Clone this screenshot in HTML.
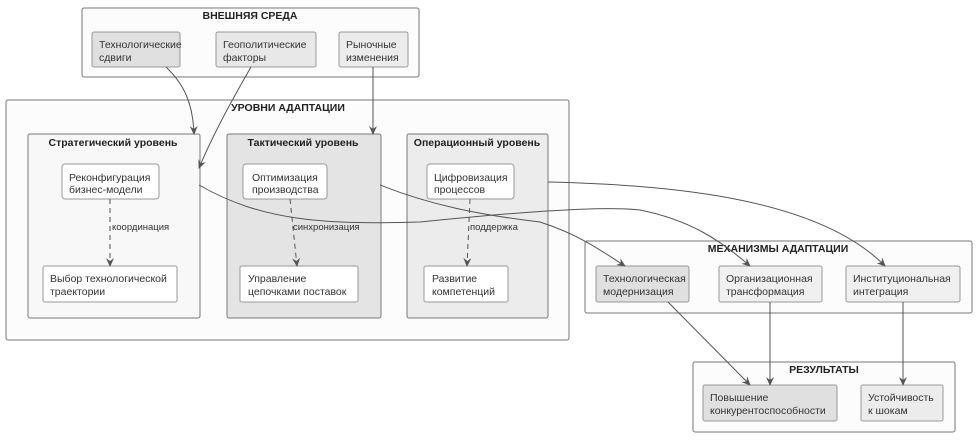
<!DOCTYPE html>
<html><head><meta charset="utf-8"><style>
body{margin:0;background:#fff}
text{font-family:"Liberation Sans","DejaVu Sans",sans-serif;fill:#333}
.t{font-size:10.5px}
.b{font-size:10.5px;font-weight:bold;text-anchor:middle;fill:#222}
.l{font-size:9.5px}
</style></head><body>
<svg width="979" height="440" viewBox="0 0 979 440" xmlns="http://www.w3.org/2000/svg">
<defs><marker id="a" markerWidth="10" markerHeight="10" refX="8" refY="5" orient="auto" markerUnits="userSpaceOnUse"><path d="M0,1 L9,5 L0,9 L3,5 Z" fill="#555"/></marker></defs>
<g stroke="#777" stroke-width="1">
<rect x="82" y="8" width="337" height="69" rx="2" fill="#fcfcfc"/>
<rect x="6" y="100" width="563" height="240" rx="2" fill="#fcfcfc"/>
<rect x="28" y="134" width="172" height="184" rx="2" fill="#f8f8f8"/>
<rect x="227" y="134" width="154" height="184" rx="2" fill="#e4e4e4"/>
<rect x="407" y="134" width="141" height="184" rx="2" fill="#ececec"/>
<rect x="585" y="241" width="387" height="72" rx="2" fill="#fcfcfc"/>
<rect x="693" y="362" width="262" height="70" rx="2" fill="#fcfcfc"/>
</g>
<g stroke="#999" stroke-width="1">
<rect x="92" y="32" width="88" height="35" rx="2" fill="#e0e0e0"/>
<rect x="216" y="32" width="100" height="35" rx="2" fill="#e8e8e8"/>
<rect x="339" y="32" width="69" height="35" rx="2" fill="#ececec"/>
<rect x="62" y="164" width="97" height="35" rx="3" fill="#fff"/>
<rect x="43" y="266" width="134" height="36" rx="2" fill="#fff"/>
<rect x="243" y="164" width="84" height="35" rx="3" fill="#fff"/>
<rect x="240" y="266" width="118" height="36" rx="2" fill="#fff"/>
<rect x="427" y="164" width="87" height="35" rx="3" fill="#fff"/>
<rect x="424" y="266" width="84" height="36" rx="2" fill="#fff"/>
<rect x="596" y="266" width="93" height="36" rx="2" fill="#e0e0e0"/>
<rect x="719" y="266" width="103" height="36" rx="2" fill="#f0f0f0"/>
<rect x="846" y="266" width="114" height="36" rx="2" fill="#f0f0f0"/>
<rect x="703" y="385" width="134" height="36" rx="2" fill="#e0e0e0"/>
<rect x="861" y="385" width="82" height="36" rx="2" fill="#ececec"/>
</g>
<text class="b" x="250" y="19">ВНЕШНЯЯ СРЕДА</text>
<text class="b" x="288" y="111">УРОВНИ АДАПТАЦИИ</text>
<text class="b" x="113" y="146">Стратегический уровень</text>
<text class="b" x="303" y="146">Тактический уровень</text>
<text class="b" x="477" y="146">Операционный уровень</text>
<text class="b" x="778" y="252">МЕХАНИЗМЫ АДАПТАЦИИ</text>
<text class="b" x="824" y="373">РЕЗУЛЬТАТЫ</text>
<g class="t">
<text x="99" y="48">Технологические</text><text x="99" y="61">сдвиги</text>
<text x="223" y="48">Геополитические</text><text x="223" y="61">факторы</text>
<text x="346" y="48">Рыночные</text><text x="346" y="61">изменения</text>
<text x="69" y="181">Реконфигурация</text><text x="69" y="193">бизнес-модели</text>
<text x="50" y="282">Выбор технологической</text><text x="50" y="295">траектории</text>
<text x="252" y="181">Оптимизация</text><text x="252" y="193">производства</text>
<text x="248" y="282">Управление</text><text x="248" y="295">цепочками поставок</text>
<text x="434" y="181">Цифровизация</text><text x="434" y="193">процессов</text>
<text x="432" y="282">Развитие</text><text x="432" y="295">компетенций</text>
<text x="603" y="282">Технологическая</text><text x="603" y="295">модернизация</text>
<text x="726" y="282">Организационная</text><text x="726" y="295">трансформация</text>
<text x="853" y="282">Институциональная</text><text x="853" y="295">интеграция</text>
<text x="710" y="401">Повышение</text><text x="710" y="414">конкурентоспособности</text>
<text x="868" y="401">Устойчивость</text><text x="868" y="414">к шокам</text>
</g>
<g class="l">
<text x="112" y="230">координация</text>
<text x="293" y="230">синхронизация</text>
<text x="470" y="230">поддержка</text>
</g>
<g fill="none" stroke="#555" stroke-width="1" marker-end="url(#a)">
<path d="M166,67 C185,85 193,105 194,134"/>
<path d="M251,67 C235,95 215,130 199,168"/>
<path d="M373,67 L373,134"/>
<path d="M199,185 C260,220 320,225 420,222 C500,214 600,205 640,210 C690,220 720,240 750,266"/>
<path d="M380,185 C430,205 480,215 540,222 C580,235 600,250 625,266"/>
<path d="M548,182 C680,185 820,200 885,266"/>
<path d="M668,302 L750,385"/>
<path d="M770,302 L770,385"/>
<path d="M903,302 L903,385"/>
</g>
<g fill="none" stroke="#555" stroke-width="1" stroke-dasharray="5,4" marker-end="url(#a)">
<path d="M110,199 L110,266"/>
<path d="M290,199 L297,266"/>
<path d="M470,199 L467,266"/>
</g>
</svg>
</body></html>
